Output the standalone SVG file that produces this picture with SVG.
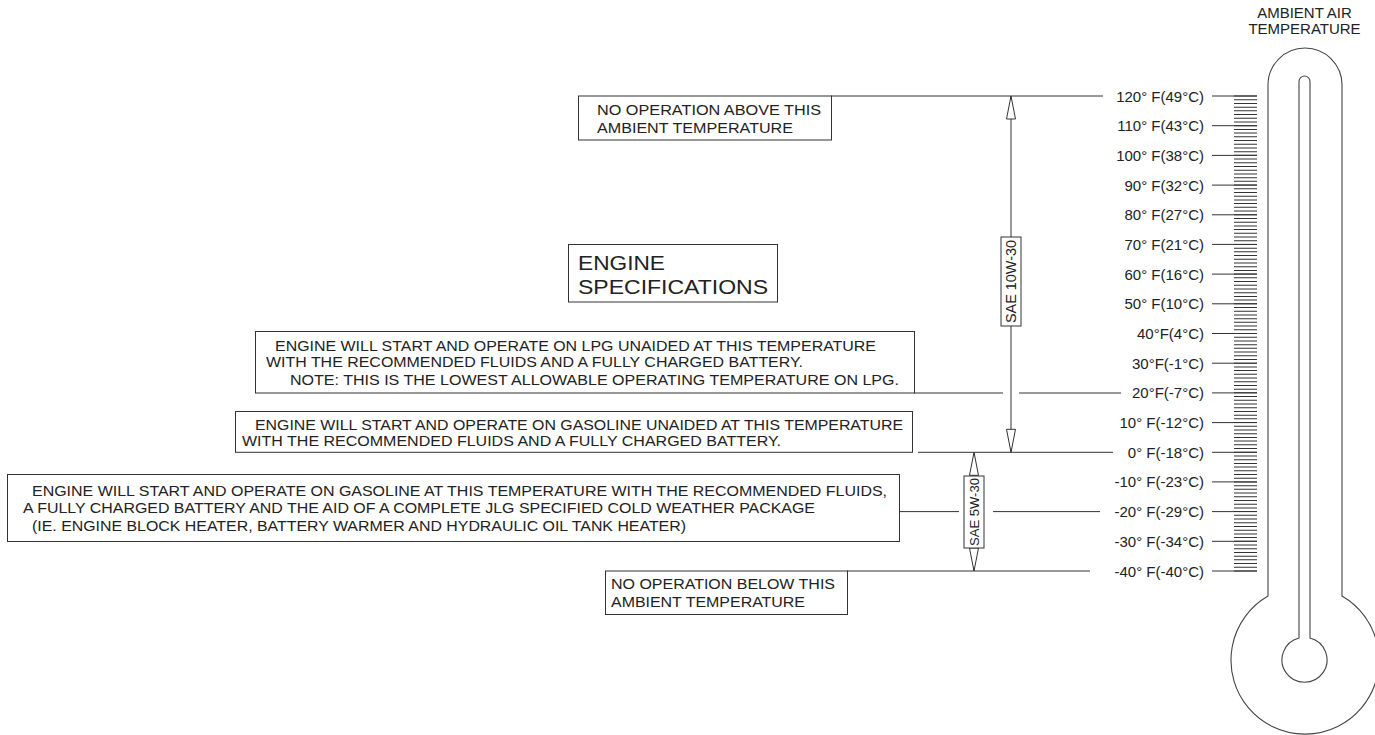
<svg xmlns="http://www.w3.org/2000/svg" width="1375" height="735" viewBox="0 0 1375 735">
<style>
text{font-family:"Liberation Sans",Arial,Helvetica,sans-serif;fill:#222}
.bt{font-size:14px}
.lb{font-size:15px;text-anchor:end}
.box{fill:#fff;stroke:#333;stroke-width:1}
.ln{stroke:#333;stroke-width:1;fill:none}
.th{stroke:#444;stroke-width:1.1;fill:none}
</style>
<defs>
<marker id="arr" viewBox="-1 -6 26 12" refX="23" refY="0" markerWidth="26" markerHeight="12" markerUnits="userSpaceOnUse" orient="auto-start-reverse">
<path d="M0,-4.5 L23,0 L0,4.5 Z" fill="#fff" stroke="#333" stroke-width="1"/>
</marker>
</defs>
<rect width="1375" height="735" fill="#fff"/>

<g id="connectors">
<path class="ln" d="M831,96 H1103 M914,393 H1003 M1019,393 H1121 M918,452.3 H1113 M899,511.6 H959 M993,511.6 H1100 M847,571 H1090"/>
<line class="ln" x1="1011" y1="96" x2="1011" y2="452.3" marker-start="url(#arr)" marker-end="url(#arr)"/>
<line class="ln" x1="974" y1="452.3" x2="974" y2="571" marker-start="url(#arr)" marker-end="url(#arr)"/>
</g>

<g id="sae-10w30">
<rect class="box" x="1001" y="237" width="20" height="89"/>
<text transform="translate(1016,281.5) rotate(-90)" font-size="14" text-anchor="middle" textLength="83" lengthAdjust="spacingAndGlyphs">SAE 10W-30</text>
</g>
<g id="sae-5w30">
<rect class="box" x="964" y="476" width="20" height="72"/>
<text transform="translate(979,512) rotate(-90)" font-size="13.5" text-anchor="middle" textLength="68" lengthAdjust="spacingAndGlyphs">SAE 5W-30</text>
</g>

<g id="no-op-above">
<rect class="box" x="578.5" y="96" width="253" height="44"/>
<text class="bt" x="597" y="115" textLength="224" lengthAdjust="spacingAndGlyphs">NO OPERATION ABOVE THIS</text>
<text class="bt" x="597" y="133" textLength="196" lengthAdjust="spacingAndGlyphs">AMBIENT TEMPERATURE</text>
</g>

<g id="engine-specifications">
<rect class="box" x="568.5" y="244.5" width="209" height="57.5"/>
<text x="578" y="270" font-size="21" textLength="87" lengthAdjust="spacingAndGlyphs">ENGINE</text>
<text x="578" y="294" font-size="21" textLength="190" lengthAdjust="spacingAndGlyphs">SPECIFICATIONS</text>
</g>

<g id="lpg-unaided">
<rect class="box" x="255.5" y="331.5" width="659" height="61.5"/>
<text class="bt" x="275" y="351" textLength="601" lengthAdjust="spacingAndGlyphs">ENGINE WILL START AND OPERATE ON LPG UNAIDED AT THIS TEMPERATURE</text>
<text class="bt" x="266" y="367" textLength="537" lengthAdjust="spacingAndGlyphs">WITH THE RECOMMENDED FLUIDS AND A FULLY CHARGED BATTERY.</text>
<text class="bt" x="290" y="385" textLength="609" lengthAdjust="spacingAndGlyphs">NOTE: THIS IS THE LOWEST ALLOWABLE OPERATING TEMPERATURE ON LPG.</text>
</g>

<g id="gasoline-unaided">
<rect class="box" x="235.5" y="411.5" width="677" height="40.8"/>
<text class="bt" x="255" y="430" textLength="648" lengthAdjust="spacingAndGlyphs">ENGINE WILL START AND OPERATE ON GASOLINE UNAIDED AT THIS TEMPERATURE</text>
<text class="bt" x="242" y="446" textLength="539" lengthAdjust="spacingAndGlyphs">WITH THE RECOMMENDED FLUIDS AND A FULLY CHARGED BATTERY.</text>
</g>

<g id="gasoline-cold-weather">
<rect class="box" x="7.5" y="474.5" width="892" height="67"/>
<text class="bt" x="32" y="496" textLength="855" lengthAdjust="spacingAndGlyphs">ENGINE WILL START AND OPERATE ON GASOLINE AT THIS TEMPERATURE WITH THE RECOMMENDED FLUIDS,</text>
<text class="bt" x="23" y="513" textLength="792" lengthAdjust="spacingAndGlyphs">A FULLY CHARGED BATTERY AND THE AID OF A COMPLETE JLG SPECIFIED COLD WEATHER PACKAGE</text>
<text class="bt" x="32" y="531" textLength="654" lengthAdjust="spacingAndGlyphs">(IE. ENGINE BLOCK HEATER, BATTERY WARMER AND HYDRAULIC OIL TANK HEATER)</text>
</g>

<g id="no-op-below">
<rect class="box" x="605.5" y="571" width="242" height="43.5"/>
<text class="bt" x="611" y="589" textLength="224" lengthAdjust="spacingAndGlyphs">NO OPERATION BELOW THIS</text>
<text class="bt" x="611" y="607" textLength="194" lengthAdjust="spacingAndGlyphs">AMBIENT TEMPERATURE</text>
</g>

<g id="thermometer">
<text x="1304.5" y="18" font-size="15" text-anchor="middle">AMBIENT AIR</text>
<text x="1304.5" y="34" font-size="15" text-anchor="middle">TEMPERATURE</text>
<path class="th" d="M1268,596 V85 A37,37 0 0 1 1342,85 V596 A74,74 0 1 1 1268,596 Z"/>
<path class="th" d="M1299,638 V81.5 A5.5,5.5 0 0 1 1310,81.5 V638 A22.5,22.5 0 1 1 1299,638 Z"/>
<line x1="1245.5" y1="95.5" x2="1245.5" y2="571.6" stroke="#333" stroke-width="23" stroke-dasharray="1 2.7109"/>
<path class="ln" d="M1212,96 H1257 M1212,125.7 H1257 M1212,155.4 H1257 M1212,185.1 H1257 M1212,214.8 H1257 M1212,244.4 H1257 M1212,274.1 H1257 M1212,303.8 H1257 M1212,333.5 H1257 M1212,363.2 H1257 M1212,392.9 H1257 M1212,422.6 H1257 M1212,452.3 H1257 M1212,481.9 H1257 M1212,511.6 H1257 M1212,541.3 H1257 M1212,571 H1257"/>
<text class="lb" x="1204" y="101.5">120° F(49°C)</text>
<text class="lb" x="1204" y="131.2">110° F(43°C)</text>
<text class="lb" x="1204" y="160.9">100° F(38°C)</text>
<text class="lb" x="1204" y="190.6">90° F(32°C)</text>
<text class="lb" x="1204" y="220.3">80° F(27°C)</text>
<text class="lb" x="1204" y="249.9">70° F(21°C)</text>
<text class="lb" x="1204" y="279.6">60° F(16°C)</text>
<text class="lb" x="1204" y="309.3">50° F(10°C)</text>
<text class="lb" x="1204" y="339">40°F(4°C)</text>
<text class="lb" x="1204" y="368.7">30°F(-1°C)</text>
<text class="lb" x="1204" y="398.4">20°F(-7°C)</text>
<text class="lb" x="1204" y="428.1">10° F(-12°C)</text>
<text class="lb" x="1204" y="457.8">0° F(-18°C)</text>
<text class="lb" x="1204" y="487.4">-10° F(-23°C)</text>
<text class="lb" x="1204" y="517.1">-20° F(-29°C)</text>
<text class="lb" x="1204" y="546.8">-30° F(-34°C)</text>
<text class="lb" x="1204" y="576.5">-40° F(-40°C)</text>
</g>
</svg>
